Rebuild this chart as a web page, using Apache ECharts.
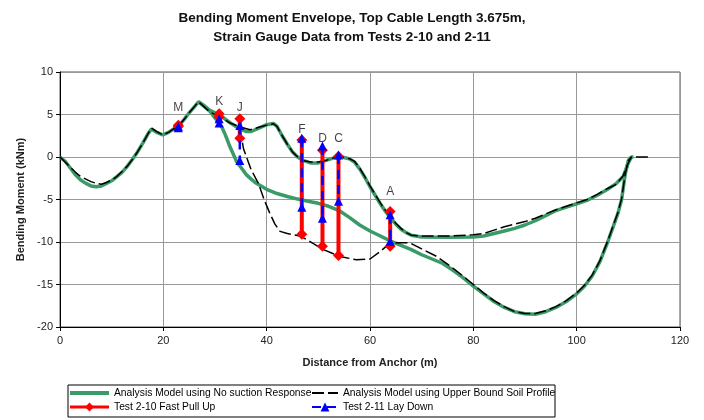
<!DOCTYPE html>
<html>
<head>
<meta charset="utf-8">
<script src="https://cdn.jsdelivr.net/npm/echarts@6/dist/echarts.min.js"></script>
<style>
html,body{margin:0;padding:0;background:#fff;}
#chart{width:704px;height:420px;}
</style>
</head>
<body>
<div id="chart"></div>
<script>
const xTicks = [0, 20, 40, 60, 80, 100, 120];
const yTicks = [-20, -15, -10, -5, 0, 5, 10];

const greenUpper = [[0,0],[1,-0.5],[2,-1.3],[3,-2.1],[4,-2.7],[5,-3.1],[6,-3.4],[7,-3.5],[8,-3.4],[9,-3.1],[10,-2.8],[11,-2.3],[12,-1.8],[13,-1.1],[14,-0.3],[15,0.6],[16,1.6],[17,2.7],[17.7,3.3],[18.7,2.9],[19.9,2.6],[21,2.9],[22,3.3],[23,3.7],[24,4.4],[25,5.2],[26,5.9],[26.8,6.5],[28,6.0],[29,5.5],[31,4.9],[33,4.0],[34.8,3.3],[36,3.0],[37,3.0],[38.5,3.4],[40,3.8],[41.3,3.95],[42,3.6],[43,2.5],[44,1.5],[45,0.6],[46,0],[47,-0.4],[48.5,-0.7],[50,-0.7],[51.5,-0.4],[53,-0.1],[54.5,0],[56,-0.2],[57,-0.6],[58,-1.4],[59,-2.4],[60,-3.5],[61,-4.5],[62,-5.5],[63,-6.4],[64,-7.2],[65,-7.9],[66,-8.5],[67,-8.9],[68,-9.2],[70,-9.4],[75,-9.45],[80,-9.4],[82,-9.3],[84,-9.0],[86,-8.7],[88,-8.4],[90,-8.0],[92,-7.5],[94,-6.9],[96,-6.3],[98,-5.9],[100,-5.5],[102,-5.1],[104,-4.5],[106,-3.8],[107.7,-3.1],[109,-2.3],[110,-0.7],[110.6,0],[111,0]];
const greenLower = [[26.8,6.5],[28,5.9],[29,5.4],[30,4.6],[31.3,3.55],[32,2.6],[32.9,1.2],[34.2,-0.55],[35,-1.2],[36.1,-2.1],[37,-2.6],[38,-3.1],[40,-3.8],[42,-4.3],[44,-4.65],[46,-4.95],[48,-5.2],[50,-5.45],[52,-5.8],[54,-6.3],[56,-7.1],[58,-8.0],[60,-8.7],[62,-9.3],[64,-9.9],[66,-10.4],[68,-10.9],[70,-11.5],[72,-12.0],[74,-12.5],[76,-13.3],[78,-14.2],[80,-15.2],[82,-16.1],[84,-17.0],[86,-17.7],[88,-18.2],[90,-18.45],[92,-18.5],[94,-18.2],[96,-17.7],[98,-17.0],[100,-16.1],[101.5,-15.2],[103,-14.0],[104.5,-12.3],[106,-10.0],[107,-8.3],[108,-6.6],[108.7,-5.0],[109.4,-2.0],[110,-0.4],[110.6,0]];
const blackUpper = [[0,0],[1,-0.6],[2,-1.2],[3,-1.8],[4,-2.3],[5,-2.6],[6,-2.9],[7,-3.1],[8,-3.2],[9,-3.0],[10,-2.7],[11,-2.3],[12,-1.7],[13,-1.1],[14,-0.3],[15,0.6],[16,1.6],[17,2.7],[17.7,3.4],[18.7,3.0],[19.9,2.6],[21,2.9],[22,3.3],[23,3.7],[24,4.4],[25,5.2],[26,5.9],[26.8,6.5],[29,5.3],[31,4.7],[32.9,4.0],[34.8,3.55],[36.8,3.2],[38.5,3.5],[40,3.75],[41.3,3.9],[42,3.6],[43,2.5],[44,1.5],[45,0.6],[46,0],[47,-0.4],[48.5,-0.6],[50,-0.6],[51.5,-0.4],[53,-0.1],[54.5,0],[56,-0.2],[57,-0.5],[58,-1.3],[59,-2.3],[60,-3.4],[61,-4.4],[62,-5.4],[63,-6.3],[64,-7.1],[65,-7.8],[66,-8.4],[67,-8.9],[68,-9.2],[70,-9.3],[75,-9.3],[80,-9.15],[82,-9.0],[84,-8.6],[86,-8.2],[88,-7.9],[90,-7.6],[92,-7.2],[94,-6.7],[96,-6.2],[98,-5.8],[100,-5.4],[102,-5.0],[104,-4.4],[106,-3.7],[107.7,-3.2],[109,-2.2],[110,-0.7],[110.6,0],[114,0]];
const blackLower = [[34.8,3.55],[35.5,1.0],[37,-1.5],[38.4,-3.1],[39.5,-5.0],[40.6,-6.6],[41.6,-7.9],[42.6,-8.75],[44,-9.0],[46.5,-9.3],[48,-9.8],[51,-10.9],[54.2,-11.7],[57.4,-12.1],[60,-12.0],[62,-11.1],[63.9,-10.1],[67.7,-10.1],[70,-10.8],[72.9,-11.7],[75,-12.6],[78,-14.0],[80,-15.0],[82,-16.0],[84,-16.9],[86,-17.6],[88,-18.2],[90,-18.4],[92,-18.4],[94,-18.1],[96,-17.6],[98,-16.9],[100,-16.0],[101.5,-15.1],[103,-13.9],[104.5,-12.2],[106,-9.9],[107,-8.2],[108,-6.5],[108.7,-4.9],[109.4,-2.0],[110,-0.4],[110.6,0]];

const locNames = ['M','K','J','F','D','C','A'];
const locX = [22.9, 30.8, 34.8, 46.8, 50.8, 53.9, 63.9];
const test210Max = [3.75, 5.1, 4.5, 2.0, 0.8, 0.1, -6.4];
const test210Min = [3.6, 4.7, 2.2, -9.1, -10.5, -11.6, -10.5];
const test211Max = [3.6, 4.5, 3.7, 2.2, 1.3, 0.25, -6.8];
const test211Min = [3.45, 4.0, -0.4, -5.9, -7.2, -5.2, -9.9];
const labelY = [5.86, 6.45, 5.86, 3.17, 2.1, 2.1, -4.1];

const N_GREEN = 'Analysis Model using No suction Response';
const N_BLACK = 'Analysis Model using Upper Bound Soil Profile';
const N_RED = 'Test 2-10 Fast Pull Up';
const N_BLUE = 'Test 2-11 Lay Down';

const FONT = 'Liberation Sans, Arial, sans-serif';
const GREEN = '#3a9a68';

const series = [];
[greenUpper, greenLower].forEach(d => series.push({
  name: N_GREEN, type: 'line', data: d, symbol: 'none', z: 2,
  lineStyle: {color: GREEN, width: 3.5}, itemStyle: {color: GREEN}
}));
[blackUpper, blackLower].forEach(d => series.push({
  name: N_BLACK, type: 'line', data: d, symbol: 'none', z: 3,
  lineStyle: {color: '#000', width: 1.5, type: [12, 4]}, itemStyle: {color: '#000'}
}));
locX.forEach((x, i) => series.push({
  name: N_RED, type: 'line', z: 4,
  data: [[x, test210Max[i]], [x, test210Min[i]]],
  symbol: 'diamond', symbolSize: 11,
  lineStyle: {color: '#ff0000', width: 4}, itemStyle: {color: '#ff0000'}
}));
locX.forEach((x, i) => series.push({
  name: N_BLUE, type: 'line', z: 5,
  data: [[x, test211Max[i]], [x, test211Min[i]]],
  symbol: 'triangle', symbolSize: 9,
  lineStyle: {color: '#0000ff', width: 2.5, type: [9, 6]}, itemStyle: {color: '#0000ff'}
}));
series.push({
  name: 'labels', type: 'scatter', z: 6, symbolSize: 0, silent: true,
  data: locX.map((x, i) => ({value: [x, labelY[i]], name: locNames[i]})),
  label: {show: true, position: 'inside', formatter: p => p.name,
    color: '#111', fontSize: 12, fontFamily: FONT}
});

const legendText = {fontSize: 10.3, color: '#000', fontFamily: FONT};
const chart = echarts.init(document.getElementById('chart'));
chart.setOption({
  animation: false,
  backgroundColor: '#fff',
  title: {
    text: 'Bending Moment Envelope, Top Cable Length 3.675m,\nStrain Gauge Data from Tests 2-10 and 2-11',
    left: 'center', top: 4,
    textStyle: {fontSize: 13.5, fontWeight: 'bold', color: '#111', fontFamily: FONT, lineHeight: 19}
  },
  grid: {left: 60, right: 24, top: 72, bottom: 93, show: true, borderColor: '#555', borderWidth: 1},
  xAxis: {
    type: 'value', min: xTicks[0], max: xTicks[xTicks.length - 1], interval: 20,
    name: 'Distance from Anchor (m)', nameLocation: 'middle', nameGap: 30,
    nameTextStyle: {fontSize: 11, fontWeight: 'bold', color: '#222', fontFamily: FONT},
    axisLine: {onZero: false, lineStyle: {color: '#000'}},
    axisTick: {show: true, length: 4, lineStyle: {color: '#000'}},
    axisLabel: {fontSize: 11, color: '#222', fontFamily: FONT, margin: 8},
    splitLine: {show: true, lineStyle: {color: '#999', width: 1}}
  },
  yAxis: {
    type: 'value', min: yTicks[0], max: yTicks[yTicks.length - 1], interval: 5,
    name: 'Bending Moment (kNm)', nameLocation: 'middle', nameGap: 34, nameRotate: 90,
    nameTextStyle: {fontSize: 11, fontWeight: 'bold', color: '#222', fontFamily: FONT},
    axisLine: {show: true, onZero: false, lineStyle: {color: '#000'}},
    axisTick: {show: true, length: 4, lineStyle: {color: '#000'}},
    axisLabel: {fontSize: 11, color: '#222', fontFamily: FONT, margin: 7},
    splitLine: {show: true, lineStyle: {color: '#999', width: 1}}
  },
  legend: [
    {left: 68, top: 388, orient: 'vertical', itemGap: 4, itemWidth: 39, itemHeight: 11, padding: 0,
     data: [{name: N_GREEN, itemStyle: {opacity: 0}, lineStyle: {width: 4}}, {name: N_RED, lineStyle: {width: 3}}],
     textStyle: legendText},
    {left: 311, top: 388, orient: 'vertical', itemGap: 4, itemWidth: 26, itemHeight: 11, padding: 0,
     data: [{name: N_BLACK, itemStyle: {opacity: 0}, lineStyle: {width: 2}}, {name: N_BLUE, lineStyle: {width: 2}}],
     textStyle: legendText}
  ],
  graphic: [{type: 'rect', silent: true, shape: {x: 68, y: 385, width: 487, height: 32},
    style: {fill: 'none', stroke: '#000', lineWidth: 1}}],
  series: series
});
</script>
</body>
</html>
